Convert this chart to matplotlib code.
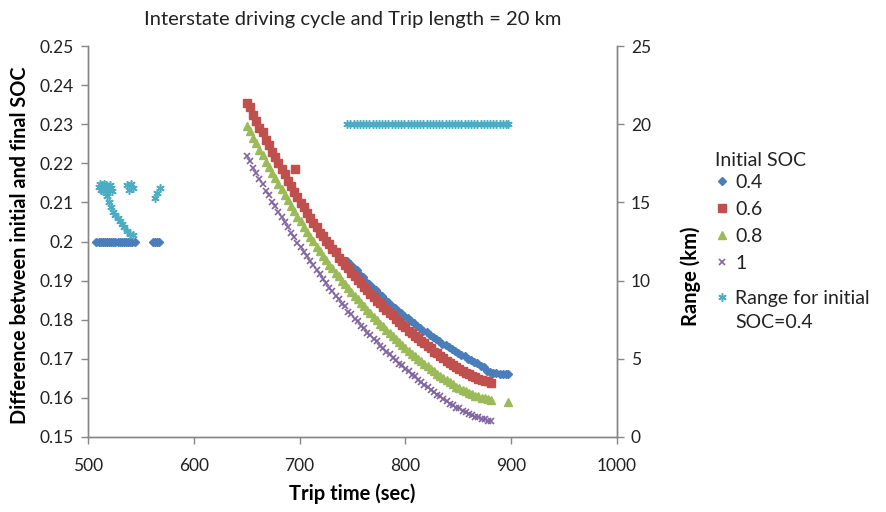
import matplotlib
matplotlib.use("Agg")
import matplotlib.pyplot as plt
from matplotlib.lines import Line2D
from matplotlib.ticker import FuncFormatter, MultipleLocator

plt.rcParams['font.family'] = ['Lato', 'DejaVu Sans']

# ---------------- data ----------------
soc04_x = [508, 510, 512, 514, 516, 518, 520, 522, 524, 526, 528, 530, 532, 534, 536, 538, 540, 542, 544,
           561, 563, 565, 567,
           745, 748, 751, 754, 757, 760, 763, 766, 769, 772, 775, 778, 781, 784, 787, 790, 793, 796, 799,
           802, 805, 808, 811, 814, 817, 820, 823, 826, 829, 832, 835, 838, 841, 844, 847, 850, 853, 856,
           859, 862, 865, 868, 871, 874, 877, 880, 883, 886, 889, 892, 895, 897]
soc04_y = [0.2] * 19 + [0.2] * 4 + [
    0.1950, 0.1943, 0.1933, 0.1926, 0.1915, 0.1908, 0.1897, 0.1891, 0.1881, 0.1875, 0.1865, 0.1860,
    0.1850, 0.1845, 0.1836, 0.1831, 0.1822, 0.1818, 0.1809, 0.1805, 0.1796, 0.1792, 0.1784, 0.1780,
    0.1772, 0.1768, 0.1761, 0.1757, 0.1750, 0.1746, 0.1739, 0.1736, 0.1729, 0.1726, 0.1719, 0.1716,
    0.1709, 0.1707, 0.1700, 0.1698, 0.1692, 0.1689, 0.1681, 0.1679, 0.1670, 0.1667, 0.1664, 0.1663,
    0.1662, 0.1662, 0.1661, 0.1662]

t3_x = [650, 653, 656, 659, 662, 665, 668, 671, 674, 677, 680, 683, 686, 689, 692, 695, 698, 701, 704,
        707, 710, 713, 716, 719, 722, 725, 728, 731, 734, 737, 740, 743, 746, 749, 752, 755, 758, 761,
        764, 767, 770, 773, 776, 779, 782, 785, 788, 791, 794, 797, 800, 803, 806, 809, 812, 815, 818,
        821, 824, 827, 830, 833, 836, 839, 842, 845, 848, 851, 854, 857, 860, 863, 866, 869, 872, 875,
        878, 881]

soc06_x = t3_x + [696]
soc06_y = [0.2355, 0.2343, 0.2324, 0.2309, 0.2290, 0.2279, 0.2261, 0.2248, 0.2230, 0.2216, 0.2201,
           0.2185, 0.2172, 0.2155, 0.2143, 0.2127, 0.2115, 0.2099, 0.2088, 0.2073, 0.2061, 0.2048,
           0.2038, 0.2023, 0.2014, 0.2002, 0.1993, 0.1981, 0.1972, 0.1959, 0.1951, 0.1939, 0.1932,
           0.1920, 0.1913, 0.1902, 0.1895, 0.1884, 0.1876, 0.1866, 0.1859, 0.1849, 0.1842, 0.1832,
           0.1826, 0.1817, 0.1811, 0.1802, 0.1795, 0.1786, 0.1781, 0.1772, 0.1767, 0.1758, 0.1753,
           0.1745, 0.1740, 0.1732, 0.1727, 0.1718, 0.1714, 0.1706, 0.1702, 0.1694, 0.1690, 0.1683,
           0.1680, 0.1673, 0.1670, 0.1663, 0.1661, 0.1655, 0.1653, 0.1648, 0.1647, 0.1642, 0.1642,
           0.1639, 0.2185]

soc08_x = t3_x + [897]
soc08_y = [0.2295, 0.2282, 0.2264, 0.2251, 0.2234, 0.2221, 0.2204, 0.2191, 0.2175, 0.2163, 0.2147,
           0.2135, 0.2119, 0.2106, 0.2090, 0.2078, 0.2063, 0.2052, 0.2037, 0.2025, 0.2011, 0.2001,
           0.1987, 0.1977, 0.1964, 0.1954, 0.1941, 0.1933, 0.1920, 0.1911, 0.1899, 0.1891, 0.1880,
           0.1872, 0.1861, 0.1853, 0.1842, 0.1835, 0.1824, 0.1817, 0.1807, 0.1800, 0.1790, 0.1783,
           0.1774, 0.1767, 0.1758, 0.1751, 0.1742, 0.1736, 0.1727, 0.1721, 0.1713, 0.1707, 0.1700,
           0.1695, 0.1687, 0.1681, 0.1673, 0.1669, 0.1661, 0.1657, 0.1650, 0.1645, 0.1640, 0.1636,
           0.1629, 0.1626, 0.1620, 0.1618, 0.1612, 0.1610, 0.1606, 0.1604, 0.1600, 0.1599, 0.1596,
           0.1595, 0.1590]

soc10_x = t3_x
soc10_y = [0.2220, 0.2207, 0.2189, 0.2176, 0.2159, 0.2147, 0.2130, 0.2119, 0.2102, 0.2091, 0.2075,
           0.2064, 0.2049, 0.2038, 0.2023, 0.2012, 0.1997, 0.1987, 0.1973, 0.1963, 0.1949, 0.1940,
           0.1926, 0.1917, 0.1904, 0.1895, 0.1882, 0.1874, 0.1861, 0.1853, 0.1841, 0.1834, 0.1821,
           0.1814, 0.1802, 0.1796, 0.1784, 0.1778, 0.1767, 0.1761, 0.1750, 0.1745, 0.1733, 0.1728,
           0.1717, 0.1712, 0.1702, 0.1697, 0.1687, 0.1683, 0.1673, 0.1669, 0.1659, 0.1655, 0.1645,
           0.1641, 0.1632, 0.1628, 0.1619, 0.1616, 0.1607, 0.1604, 0.1596, 0.1593, 0.1585, 0.1582,
           0.1575, 0.1573, 0.1566, 0.1564, 0.1558, 0.1556, 0.1551, 0.1550, 0.1546, 0.1545, 0.1541,
           0.1540]

range_x = [510, 511, 512, 513, 514, 515, 516, 517, 518, 519, 520, 521, 522, 523,
           518, 520, 522, 524, 526, 528, 530, 532, 534, 537, 540, 543,
           537, 539, 541, 543,
           563, 565, 568,
           745, 748, 751, 754, 757, 760, 763, 766, 769, 772, 775, 778, 781, 784, 787, 790, 793, 796,
           799, 802, 805, 808, 811, 814, 817, 820, 823, 826, 829, 832, 835, 838, 841, 844, 847, 850,
           853, 856, 859, 862, 865, 868, 871, 874, 877, 880, 883, 886, 889, 892, 895, 897]
range_y = [16.0, 16.2, 15.8, 16.1, 15.7, 16.2, 15.9, 16.1, 15.6, 16.0, 15.8, 16.1, 15.9, 15.7,
           15.4, 15.0, 14.7, 14.4, 14.2, 14.0, 13.8, 13.6, 13.4, 13.2, 13.0, 12.9,
           16.1, 15.8, 16.2, 15.9,
           15.3, 15.6, 15.9] + [20.0] * 52

x_ticks = [500, 600, 700, 800, 900, 1000]

# ---------------- figure ----------------
fig = plt.figure(figsize=(8.86, 5.12), dpi=100)
ax = fig.add_axes([0.0993, 0.1465, 0.5971, 0.7635])
ax2 = ax.twinx()

c_blue, c_red, c_green, c_purple, c_cyan = '#4A7EBB', '#C0504D', '#9BBB59', '#8064A2', '#4BACC6'

h1, = ax.plot(soc04_x, soc04_y, ls='none', marker='D', ms=4.5, color=c_blue, mec=c_blue, label='0.4')
h2, = ax.plot(soc06_x, soc06_y, ls='none', marker='s', ms=5.8, color=c_red, mec=c_red, label='0.6')
h3, = ax.plot(soc08_x, soc08_y, ls='none', marker='^', ms=5.8, color=c_green, mec=c_green, label='0.8')
h4, = ax.plot(soc10_x, soc10_y, ls='none', marker='x', ms=5, mew=1.2, color=c_purple, label='1')
h5, = ax2.plot(range_x, range_y, ls='none', marker=(6, 2, 0), ms=6, mew=1.1, color=c_cyan,
               label='Range for initial SOC=0.4')

ax.set_xlim(500, 1000)
ax.set_ylim(0.15, 0.25)
ax2.set_ylim(0, 25)
ax.set_xticks(x_ticks)
ax.yaxis.set_major_locator(MultipleLocator(0.01))
ax.yaxis.set_major_formatter(FuncFormatter(lambda v, p: f'{round(v, 2):g}'))
ax2.yaxis.set_major_locator(MultipleLocator(5))

spine_c = '#868686'
for a in (ax, ax2):
    a.spines['top'].set_visible(False)
    for s in ('left', 'right', 'bottom'):
        a.spines[s].set_color(spine_c)
        a.spines[s].set_linewidth(1.0)
    a.tick_params(direction='out', length=5, width=1, color=spine_c, labelsize=12.5,
                  labelcolor='#222222', pad=5)
ax.tick_params(axis='x', pad=10)

ax.set_title('Interstate driving cycle and Trip length = 20 km', fontsize=14.5, color='#222222', pad=15)
ax.set_xlabel('Trip time (sec)', fontsize=14.5, fontweight='bold', labelpad=7)
ax.set_ylabel('Difference between initial and final SOC', fontsize=14.3, fontweight='bold')
ax.yaxis.set_label_coords(-0.109, 0.49)
ax2.set_ylabel('Range (km)', fontsize=14.5, fontweight='bold')
ax2.yaxis.set_label_coords(1.119, 0.41)

leg_kw = dict(loc='upper left', frameon=False, fontsize=14, handlelength=0.7, handletextpad=0.35,
              borderpad=0, borderaxespad=0)
fig.text(0.807, 0.6875, 'Initial SOC', fontsize=14, ha='left', va='center', color='#222222')
leg1 = fig.legend(handles=[h1, h2, h3, h4], bbox_to_anchor=(0.807, 0.661), labelspacing=0.52,
                  **leg_kw)
blank = Line2D([], [], ls='none', marker='none')
leg2 = fig.legend(handles=[h5, blank], labels=['Range for initial', 'SOC=0.4'],
                  bbox_to_anchor=(0.807, 0.4336), labelspacing=0.38, **leg_kw)
for lg in (leg1, leg2):
    for t in lg.get_texts():
        t.set_color('#222222')

fig.savefig('out.png', dpi=100)
